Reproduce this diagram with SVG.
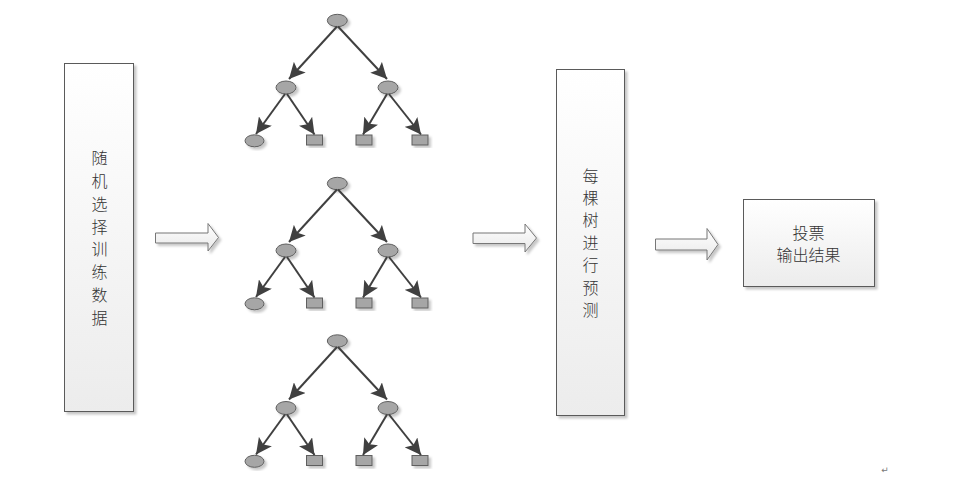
<svg xmlns="http://www.w3.org/2000/svg" width="964" height="488" viewBox="0 0 964 488">
<defs>
  <linearGradient id="boxg" x1="0" y1="0" x2="0" y2="1">
    <stop offset="0" stop-color="#ffffff"/>
    <stop offset="1" stop-color="#ececec"/>
  </linearGradient>
  <linearGradient id="arrg" x1="0" y1="0" x2="0" y2="1">
    <stop offset="0" stop-color="#ffffff"/>
    <stop offset="1" stop-color="#e8e8e8"/>
  </linearGradient>
  <filter id="sh" x="-20%" y="-20%" width="150%" height="150%">
    <feDropShadow dx="2.5" dy="2.5" stdDeviation="1.2" flood-color="#000" flood-opacity="0.22"/>
  </filter>
  <marker id="ah" markerUnits="userSpaceOnUse" markerWidth="17" markerHeight="16" viewBox="0 0 17 16" refX="16" refY="8" orient="auto">
    <path d="M0,0 L16,8 L0,16 L3.5,8 Z" fill="#404040"/>
  </marker>
  <style>
    .box{fill:url(#boxg);stroke:#5a5a5a;stroke-width:1;filter:url(#sh)}
    .barrow{fill:url(#arrg);stroke:#777;stroke-width:1;filter:url(#sh)}
    .nd{fill:#a6a6a6;stroke:#5f5f5f;stroke-width:1;filter:url(#sh)}
    .edge{stroke:#404040;stroke-width:2;fill:none;marker-end:url(#ah)}
    .t{font-family:"Noto Sans CJK SC","Noto Sans CJK JP",sans-serif;font-size:16px;font-weight:300;fill:#333;text-anchor:middle}
  </style>
</defs>
<rect width="964" height="488" fill="#fff"/>

<g id="box-train">
  <rect class="box" x="64.5" y="63.5" width="69" height="348"/>
  <text class="t" x="99.5" y="164">随</text>
  <text class="t" x="99.5" y="187">机</text>
  <text class="t" x="99.5" y="210">选</text>
  <text class="t" x="99.5" y="233">择</text>
  <text class="t" x="99.5" y="255">训</text>
  <text class="t" x="99.5" y="278">练</text>
  <text class="t" x="99.5" y="301">数</text>
  <text class="t" x="99.5" y="324">据</text>
</g>

<g id="box-predict">
  <rect class="box" x="556.5" y="69.5" width="68" height="346"/>
  <text class="t" x="590.5" y="181.5">每</text>
  <text class="t" x="590.5" y="204">棵</text>
  <text class="t" x="590.5" y="226">树</text>
  <text class="t" x="590.5" y="249">进</text>
  <text class="t" x="590.5" y="271">行</text>
  <text class="t" x="590.5" y="294">预</text>
  <text class="t" x="590.5" y="316">测</text>
</g>

<g id="box-vote">
  <rect class="box" x="743.5" y="199.5" width="131" height="87"/>
  <text class="t" x="808.5" y="239">投票</text>
  <text class="t" x="808.5" y="261">输出结果</text>
</g>

<g id="tree1">
  <g id="t1-root"><ellipse class="nd" cx="337.3" cy="20.5" rx="10" ry="6.2"/></g>
  <g id="t1-l"><ellipse class="nd" cx="286" cy="87.5" rx="10" ry="6.5"/></g>
  <g id="t1-r"><ellipse class="nd" cx="388" cy="87.5" rx="10" ry="6.5"/></g>
  <g id="t1-ll"><ellipse class="nd" cx="254.5" cy="140.8" rx="9.5" ry="6"/></g>
  <g id="t1-lr"><rect class="nd" x="306.5" y="135" width="16" height="10"/></g>
  <g id="t1-rl"><rect class="nd" x="356" y="135" width="16" height="10"/></g>
  <g id="t1-rr"><rect class="nd" x="412" y="135" width="16" height="10"/></g>
</g>
<g id="tree2" transform="translate(0,163)">
  <g id="t2-root"><ellipse class="nd" cx="337.3" cy="20.5" rx="10" ry="6.2"/></g>
  <g id="t2-l"><ellipse class="nd" cx="286" cy="87.5" rx="10" ry="6.5"/></g>
  <g id="t2-r"><ellipse class="nd" cx="388" cy="87.5" rx="10" ry="6.5"/></g>
  <g id="t2-ll"><ellipse class="nd" cx="254.5" cy="140.8" rx="9.5" ry="6"/></g>
  <g id="t2-lr"><rect class="nd" x="306.5" y="135" width="16" height="10"/></g>
  <g id="t2-rl"><rect class="nd" x="356" y="135" width="16" height="10"/></g>
  <g id="t2-rr"><rect class="nd" x="412" y="135" width="16" height="10"/></g>
</g>
<g id="tree3" transform="translate(0,320.5)">
  <g id="t3-root"><ellipse class="nd" cx="337.3" cy="20.5" rx="10" ry="6.2"/></g>
  <g id="t3-l"><ellipse class="nd" cx="286" cy="87.5" rx="10" ry="6.5"/></g>
  <g id="t3-r"><ellipse class="nd" cx="388" cy="87.5" rx="10" ry="6.5"/></g>
  <g id="t3-ll"><ellipse class="nd" cx="254.5" cy="140.8" rx="9.5" ry="6"/></g>
  <g id="t3-lr"><rect class="nd" x="306.5" y="135" width="16" height="10"/></g>
  <g id="t3-rl"><rect class="nd" x="356" y="135" width="16" height="10"/></g>
  <g id="t3-rr"><rect class="nd" x="412" y="135" width="16" height="10"/></g>
</g>

<g id="connectors">
  <g id="tree1-edges">
    <line class="edge" x1="337" y1="26.5" x2="289" y2="79"/>
    <line class="edge" x1="338" y1="26.5" x2="387" y2="79"/>
    <line class="edge" x1="285" y1="94" x2="256" y2="134"/>
    <line class="edge" x1="287" y1="94" x2="314.5" y2="134.5"/>
    <line class="edge" x1="387" y1="94" x2="363" y2="134.5"/>
    <line class="edge" x1="389" y1="94" x2="421" y2="134.5"/>
  </g>
  <g id="tree2-edges" transform="translate(0,163)">
    <line class="edge" x1="337" y1="26.5" x2="289" y2="79"/>
    <line class="edge" x1="338" y1="26.5" x2="387" y2="79"/>
    <line class="edge" x1="285" y1="94" x2="256" y2="134"/>
    <line class="edge" x1="287" y1="94" x2="314.5" y2="134.5"/>
    <line class="edge" x1="387" y1="94" x2="363" y2="134.5"/>
    <line class="edge" x1="389" y1="94" x2="421" y2="134.5"/>
  </g>
  <g id="tree3-edges" transform="translate(0,320.5)">
    <line class="edge" x1="337" y1="26.5" x2="289" y2="79"/>
    <line class="edge" x1="338" y1="26.5" x2="387" y2="79"/>
    <line class="edge" x1="285" y1="94" x2="256" y2="134"/>
    <line class="edge" x1="287" y1="94" x2="314.5" y2="134.5"/>
    <line class="edge" x1="387" y1="94" x2="363" y2="134.5"/>
    <line class="edge" x1="389" y1="94" x2="421" y2="134.5"/>
  </g>
  <polygon id="arrow1" class="barrow" points="155.5,233 208,233 208,223.5 218.5,237.5 208,251 208,243 155.5,243"/>
  <polygon id="arrow2" class="barrow" points="473,233 525,233 525,224 536.5,238 525,252 525,243.5 473,243.5"/>
  <polygon id="arrow3" class="barrow" points="655.5,239 707,239 707,228.5 718,244.5 707,260 707,250 655.5,250"/>
</g>

<text x="885" y="473" font-family="DejaVu Sans, sans-serif" font-size="9" fill="#777" text-anchor="middle">↵</text>
</svg>
